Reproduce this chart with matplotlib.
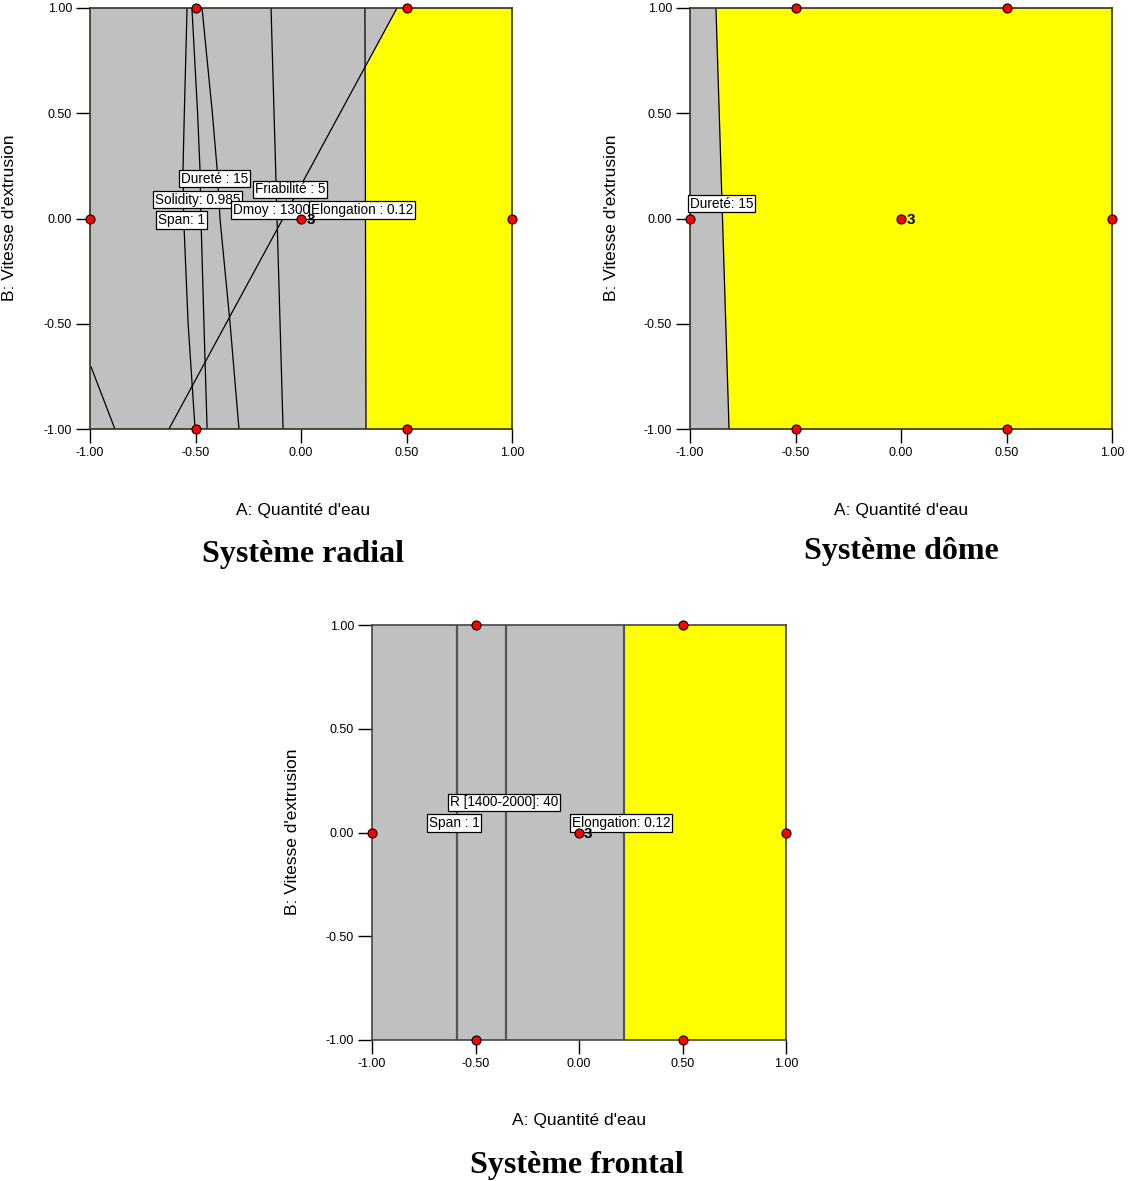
import numpy as np
import matplotlib.pyplot as plt

plt.rcParams['font.family'] = ['Liberation Sans', 'DejaVu Sans']

GREY = "#c0c0c0"
YELLOW = "#ffff00"

# design points (A, B) shared by the three panels
design_a = [-1.0, 1.0, -0.5, 0.5, -0.5, 0.5, 0.0]
design_b = [0.0, 0.0, 1.0, 1.0, -1.0, -1.0, 0.0]
center_reps = "3"

ticks = [-1.0, -0.5, 0.0, 0.5, 1.0]
tick_labels = ["-1.00", "-0.50", "0.00", "0.50", "1.00"]

# --- Systeme radial: contour lines, each as (A values, B values)
radial_durete_a = [-0.540, -0.553, -0.559, -0.556, -0.535, -0.502]
radial_solid_a = [-0.517, -0.490, -0.479, -0.474, -0.460, -0.445]
radial_span_a = [-0.469, -0.420, -0.398, -0.384, -0.336, -0.294]
radial_curve_b = [1.0, 0.5, 0.24, 0.0, -0.5, -1.0]
radial_dmoy_a = [-0.142, -0.085]
radial_elong_a = [0.303, 0.308]
radial_friab_a = [0.455, -0.626]
radial_straight_b = [1.0, -1.0]
radial_corner_a = [-0.995, -0.882]
radial_corner_b = [-0.705, -1.0]
radial_labels = ["Dureté : 15", "Solidity: 0.985", "Span: 1", "Friabilité : 5",
                 "Dmoy : 1300", "Elongation : 0.12"]
radial_label_a = [-0.569, -0.692, -0.678, -0.218, -0.322, 0.047]
radial_label_b = [0.19, 0.09, -0.007, 0.138, 0.04, 0.04]

# --- Systeme dome
dome_durete_a = [-0.877, -0.815]
dome_labels = ["Dureté: 15"]
dome_label_a = [-1.0]
dome_label_b = [0.07]

# --- Systeme frontal
frontal_span_a = [-0.589, -0.589]
frontal_r_a = [-0.353, -0.353]
frontal_elong_a = [0.217, 0.217]
frontal_labels = ["R [1400-2000]: 40", "Span : 1", "Elongation: 0.12"]
frontal_label_a = [-0.623, -0.725, -0.034]
frontal_label_b = [0.145, 0.046, 0.046]

W, H = 1128, 1181
fig = plt.figure(figsize=(W / 100, H / 100), dpi=100)


def px_axes(x0, x1, y0, y1):
    return fig.add_axes([x0 / W, 1 - y1 / H, (x1 - x0) / W, (y1 - y0) / H])


def setup(ax, spine="#333322"):
    ax.set_xlim(-1, 1)
    ax.set_ylim(-1, 1)
    ax.set_facecolor(GREY)
    ax.set_xticks(ticks)
    ax.set_xticklabels(tick_labels, fontsize=9)
    ax.set_yticks(ticks)
    ax.set_yticklabels(tick_labels, fontsize=9)
    ax.tick_params(direction="out", length=10, width=1, pad=3)
    for s in ax.spines.values():
        s.set_color(spine)
        s.set_linewidth(1.2)


def boxes(ax, labels, xs, ys):
    for t, x, y in zip(labels, xs, ys):
        ax.text(x, y, t, fontsize=9.8, ha="left", va="center", zorder=5,
                bbox=dict(boxstyle="square,pad=0.12", fc="white", ec="black", lw=0.9))


def design(ax):
    ax.plot(design_a, design_b, "o", ms=6.5, mfc="red", mec="black", mew=0.8,
            clip_on=False, zorder=6)
    ax.text(0.025, -0.005, center_reps, fontsize=11, fontweight="bold",
            ha="left", va="center", zorder=6)


def labels(cx, cy_x, ax_cy, ylab_x, xlab_y, title, title_y):
    fig.text(cx / W, 1 - xlab_y / H, "A: Quantité d'eau", fontsize=12.5,
             ha="center", va="center")
    fig.text(ylab_x / W, 1 - ax_cy / H, "B: Vitesse d'extrusion", fontsize=12.5,
             ha="center", va="center", rotation=90)
    fig.text(cy_x / W, 1 - title_y / H, title, fontsize=23, fontweight="bold",
             family="Liberation Serif", ha="center", va="center")


# ---------- radial
ax1 = px_axes(90, 512, 8, 429)
setup(ax1)
bgrid = np.linspace(-1, 1, 400)
elong = np.interp(bgrid, radial_straight_b[::-1], radial_elong_a[::-1])
friab = np.interp(bgrid, radial_straight_b[::-1], radial_friab_a[::-1])
ax1.fill_betweenx(bgrid, np.maximum(elong, friab), 1, color=YELLOW, lw=0, zorder=1)
for xa in (radial_durete_a, radial_solid_a, radial_span_a):
    ax1.plot(xa, radial_curve_b, color="black", lw=0.9, zorder=2)
for xa in (radial_dmoy_a, radial_elong_a, radial_friab_a):
    ax1.plot(xa, radial_straight_b, color="black", lw=0.9, zorder=2)
ax1.plot(radial_corner_a, radial_corner_b, color="black", lw=0.9, zorder=2)
boxes(ax1, radial_labels, radial_label_a, radial_label_b)
design(ax1)
labels(303, 303, 218, 10, 511, "Système radial", 555)

# ---------- dome
ax2 = px_axes(690, 1112, 8, 429)
setup(ax2)
d = np.interp(bgrid, radial_straight_b[::-1], dome_durete_a[::-1])
ax2.fill_betweenx(bgrid, d, 1, color=YELLOW, lw=0, zorder=1)
ax2.plot(dome_durete_a, radial_straight_b, color="black", lw=0.9, zorder=2)
boxes(ax2, dome_labels, dome_label_a, dome_label_b)
design(ax2)
labels(901, 901, 218, 612, 511, "Système dôme", 552)

# ---------- frontal
ax3 = px_axes(372, 786, 625, 1040)
setup(ax3, spine="#444444")
ax3.fill_betweenx(radial_straight_b, frontal_elong_a, 1, color=YELLOW, lw=0, zorder=1)
for xa in (frontal_span_a, frontal_r_a, frontal_elong_a):
    ax3.plot(xa, radial_straight_b, color="#555555", lw=1.6, zorder=2)
boxes(ax3, frontal_labels, frontal_label_a, frontal_label_b)
design(ax3)
labels(579, 577, 832, 293, 1120, "Système frontal", 1165)

fig.savefig("out.png", dpi=100)
